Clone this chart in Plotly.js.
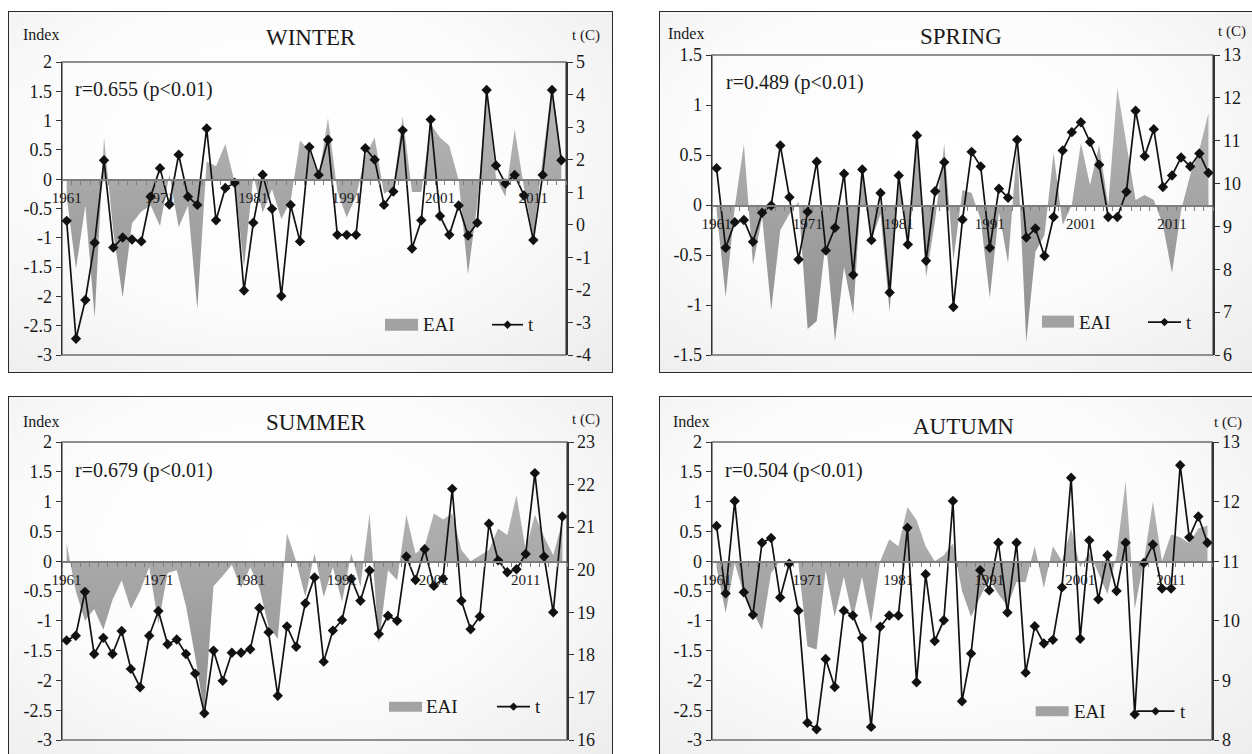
<!DOCTYPE html>
<html><head><meta charset="utf-8">
<script src="https://cdn.plot.ly/plotly-3.0.1.min.js"></script>
<style>
html,body{margin:0;padding:0;background:#fff;width:1252px;height:754px;overflow:hidden;position:relative;}
.panel{position:absolute;box-sizing:border-box;border:1.5px solid #2a2a2a;
  background:radial-gradient(ellipse at 45% 40%, #ffffff 0%, #fcfcfc 50%, #ececec 100%);}
.plot{position:absolute;}
</style></head><body>
<script>
// ---------- DATA ----------
const yearsWinter = Array.from({length: 54}, (_, i) => 1961 + i);   // 1961-2014
const years = Array.from({length: 55}, (_, i) => 1961 + i);         // 1961-2015
const decadeTicks = [1961, 1971, 1981, 1991, 2001, 2011];

const winterEAI = [-0.3, -1.53, -0.45, -2.36, 0.71, -0.9, -2.02, -0.75, -0.55, -0.45,
  -0.8, 0.08, -0.82, -0.45, -2.22, 0.3, 0.22, 0.6, -0.05, -1.5,
  0.06, -0.57, -0.17, -0.68, -0.37, 0.66, 0.49, 0.03, 1.05, -0.2,
  -0.65, -0.3, 0.4, 0.71, -0.25, -0.15, 1.08, -0.22, -0.22, 0.94,
  0.71, 0.57, -0.02, -1.62, -0.42, 1.52, 0.03, -0.3, 0.85, -0.14,
  -0.99, 0.37, 1.6, 0.37];
const winterT = [0.12, -3.50, -2.31, -0.55, 1.98, -0.70, -0.39, -0.45, -0.51, 0.86,
  1.74, 0.62, 2.15, 0.86, 0.61, 2.96, 0.14, 1.13, 1.29, -2.02,
  0.06, 1.54, 0.49, -2.19, 0.61, -0.51, 2.39, 1.53, 2.61, -0.31,
  -0.31, -0.31, 2.35, 2.0, 0.61, 1.02, 2.90, -0.73, 0.14, 3.23,
  0.27, -0.31, 0.59, -0.33, 0.06, 4.14, 1.82, 1.27, 1.53, 0.9,
  -0.47, 1.53, 4.14, 1.98];

const springEAI = [-0.05, -0.92, -0.02, 0.61, -0.6, -0.12, -1.05, -0.25, -0.09, 0.03,
  -1.24, -1.16, -0.35, -1.36, -0.62, -1.09, 0.31, -0.35, -0.09, -1.07,
  0.25, -0.35, 0.65, -0.72, -0.15, 0.61, -0.55, 0.15, 0.12, -0.15,
  -0.93, -0.07, -0.58, 0.6, -1.37, -0.47, -0.3, 0.52, -0.2, 0.0,
  0.62, 0.2, 0.6, 0.0, 1.17, 0.6, 0.05, 0.1, 0.05, -0.2,
  -0.68, -0.05, 0.3, 0.55, 0.92];
const springT = [10.36, 8.50, 9.10, 9.15, 8.64, 9.32, 9.49, 10.89, 9.68, 8.23,
  9.34, 10.51, 8.44, 8.97, 10.23, 7.87, 10.33, 8.68, 9.78, 7.46,
  10.19, 8.58, 11.12, 8.20, 9.82, 10.50, 7.12, 9.16, 10.74, 10.40,
  8.50, 9.88, 9.67, 11.02, 8.74, 8.95, 8.31, 9.22, 10.77, 11.20,
  11.43, 10.97, 10.44, 9.22, 9.22, 9.81, 11.70, 10.64, 11.27, 9.92,
  10.19, 10.61, 10.40, 10.70, 10.25];

const summerEAI = [0.3, -0.5, -1.0, -0.8, -1.15, -0.65, -0.32, -0.8, -0.5, -0.1,
  -1.05, -0.2, -0.15, -0.75, -1.6, -2.55, -0.42, -0.25, -0.06, -0.45,
  -0.1, -0.45, -1.1, -1.3, 0.47, 0.0, -0.6, 0.13, -0.6, -0.1,
  -0.68, 0.13, -0.43, 0.8, -1.38, -0.15, -0.32, 0.78, 0.13, 0.25,
  0.8, 0.7, 0.8, 0.19, 0.0, 0.1, 0.19, 0.55, 0.44, 1.11,
  0.19, 0.78, 0.41, 0.1, 0.67];
const summerT = [18.34, 18.45, 19.48, 18.02, 18.40, 18.02, 18.56, 17.67, 17.24, 18.45,
  19.03, 18.25, 18.36, 18.02, 17.56, 16.63, 18.10, 17.39, 18.05, 18.05,
  18.13, 19.10, 18.53, 17.04, 18.67, 18.19, 19.21, 19.82, 17.84, 18.57,
  18.82, 19.79, 19.27, 19.98, 18.49, 18.92, 18.80, 20.31, 19.76, 20.48,
  19.62, 19.79, 21.90, 19.27, 18.60, 18.90, 21.08, 20.22, 19.94, 20.01,
  20.37, 22.27, 20.31, 19.00, 21.25];

const autumnEAI = [-0.1, -0.87, -0.03, -0.55, -0.85, -1.15, -0.2, 0.0, 0.0, -0.03,
  -1.43, -1.48, -0.15, -0.93, -0.26, -0.96, -0.26, -1.04, 0.0, 0.37,
  0.25, 0.91, 0.69, 0.25, 0.0, 0.1, 0.3, -0.5, -0.93, -0.6,
  -0.3, -0.55, -0.75, -0.35, -0.35, 0.25, -0.45, 0.25, 0.0, 0.55,
  -0.1, 0.15, -0.2, -0.55, 0.1, 1.35, -0.8, 0.0, 1.0, 0.0,
  0.45, 0.4, 0.3, 0.55, 0.6];
const autumnT = [11.59, 10.46, 12.01, 10.48, 10.10, 11.31, 11.39, 10.39, 10.96, 10.17,
  8.29, 8.18, 9.36, 8.89, 10.17, 10.09, 9.71, 8.22, 9.90, 10.09,
  10.09, 11.56, 8.97, 10.78, 9.66, 10.01, 12.01, 8.65, 9.45, 10.85,
  10.51, 11.31, 10.14, 11.31, 9.13, 9.91, 9.62, 9.68, 10.56, 12.40,
  9.70, 11.35, 10.36, 11.10, 10.50, 11.31, 8.43, 10.97, 11.28, 10.54,
  10.54, 12.61, 11.40, 11.75, 11.31];

const winterLeftTicks = [-3, -2.5, -2, -1.5, -1, -0.5, 0, 0.5, 1, 1.5, 2];
const winterRightTicks = [-4, -3, -2, -1, 0, 1, 2, 3, 4, 5];
const springLeftTicks = [-1.5, -1, -0.5, 0, 0.5, 1, 1.5];
const springRightTicks = [6, 7, 8, 9, 10, 11, 12, 13];
const summerLeftTicks = [-3, -2.5, -2, -1.5, -1, -0.5, 0, 0.5, 1, 1.5, 2];
const summerRightTicks = [16, 17, 18, 19, 20, 21, 22, 23];
const autumnLeftTicks = [-3, -2.5, -2, -1.5, -1, -0.5, 0, 0.5, 1, 1.5, 2];
const autumnRightTicks = [8, 9, 10, 11, 12, 13];

const seasonTitles = ['WINTER', 'SPRING', 'SUMMER', 'AUTUMN'];
const corrTexts = ['r=0.655 (p<0.01)', 'r=0.489 (p<0.01)', 'r=0.679 (p<0.01)', 'r=0.504 (p<0.01)'];
const leftAxisTitle = 'Index';
const rightAxisTitle = 't (C)';
const legendNames = ['EAI', 't'];

// ---------- LAYOUT GEOMETRY (pixels) ----------
const FONT = 'Liberation Serif, Times New Roman, serif';
const panels = [
  {x: yearsWinter, eai: winterEAI, t: winterT, lt: winterLeftTicks, rt: winterRightTicks,
   box: [8, 10.7, 613.3, 372.7], plot: [62, 61.3, 566, 354.3],
   title: [311, 36.5], r: [73, 89], idx: [20.7, 33.5], tc: [586, 35],
   leg: {sw: [385, 418, 318, 330], eai: 421, ly: 324, line: [492, 523], t: 526}},
  {x: years, eai: springEAI, t: springT, lt: springLeftTicks, rt: springRightTicks,
   box: [659, 10.7, 1262, 372.7], plot: [712, 55, 1213, 354.3],
   title: [960.7, 36.5], r: [724.3, 82], idx: [666, 33.5], tc: [1232, 32],
   leg: {sw: [1042, 1074, 315, 327], eai: 1077, ly: 321.5, line: [1148, 1181], t: 1184}},
  {x: years, eai: summerEAI, t: summerT, lt: summerLeftTicks, rt: summerRightTicks,
   box: [8, 396, 613.3, 764], plot: [62, 442.3, 567, 740],
   title: [315.8, 423.3], r: [73.3, 470.7], idx: [20.7, 421.7], tc: [586, 420],
   leg: {sw: [389, 422, 701.7, 711.7], eai: 424, ly: 706.7, line: [497, 530], t: 533}},
  {x: years, eai: autumnEAI, t: autumnT, lt: autumnLeftTicks, rt: autumnRightTicks,
   box: [659, 396, 1262, 764], plot: [712, 442.3, 1212.5, 740.5],
   title: [964, 426.7], r: [722.7, 470.7], idx: [671, 421.7], tc: [1229, 423],
   leg: {sw: [1036, 1069, 706.7, 716.7], eai: 1072, ly: 711.7, line: [1137, 1175], t: 1178}}
];

panels.forEach((P, k) => {
  const bx0 = P.box[0], by0 = P.box[1], W = P.box[2] - P.box[0], H = P.box[3] - P.box[1];
  const bg = document.createElement('div');
  bg.className = 'panel';
  bg.style.left = bx0 + 'px'; bg.style.top = by0 + 'px';
  bg.style.width = W + 'px'; bg.style.height = H + 'px';
  document.body.appendChild(bg);
  const d = document.createElement('div');
  d.className = 'plot'; d.id = 'p' + k;
  d.style.left = bx0 + 'px'; d.style.top = by0 + 'px';
  d.style.width = W + 'px'; d.style.height = H + 'px';
  document.body.appendChild(d);

  const pw = P.plot[2] - P.plot[0], ph = P.plot[3] - P.plot[1];
  const px = x => (x - P.plot[0]) / pw;
  const py = y => (P.plot[3] - y) / ph;
  const lmin = Math.min(...P.lt), lmax = Math.max(...P.lt);
  const rmin = Math.min(...P.rt), rmax = Math.max(...P.rt);
  const zeroPos = (0 - lmin) / (lmax - lmin);
  const xr = [P.x[0] - 0.5, P.x[P.x.length - 1] + 0.5];

  const traces = [
    {x: P.x, y: P.eai, type: 'scatter', mode: 'lines', fill: 'tozeroy',
     fillcolor: '#a4a4a4',
     fillgradient: {type: 'vertical', start: lmin, stop: lmax,
       colorscale: [[0, '#8c8c8c'], [0.6, '#a9a9a9'], [1, '#bcbcbc']]},
     line: {width: 0, color: 'rgba(0,0,0,0)'},
     name: legendNames[0], showlegend: false, hoverinfo: 'skip', xaxis: 'x', yaxis: 'y'},
    {x: P.x, y: P.t, type: 'scatter', mode: 'lines+markers', cliponaxis: false,
     line: {color: '#111', width: 1.7}, marker: {symbol: 'diamond', size: 8, color: '#111'},
     name: legendNames[1], showlegend: false, hoverinfo: 'skip', xaxis: 'x', yaxis: 'y2'}
  ];

  const txt = (s, x, y, size, anchor) => ({text: s, x: px(x), y: py(y), xref: 'paper', yref: 'paper',
    showarrow: false, xanchor: anchor, yanchor: 'middle', font: {family: FONT, size: size, color: '#1a1a1a'}});
  const L = P.leg;
  const dx = 4.2 / pw, dy = 4.2 / ph, cx = px((L.line[0] + L.line[1]) / 2), cy = py(L.ly);
  const layout = {
    width: W, height: H,
    margin: {l: P.plot[0] - bx0, r: P.box[2] - P.plot[2], t: P.plot[1] - by0, b: P.box[3] - P.plot[3], pad: 0},
    paper_bgcolor: 'rgba(0,0,0,0)', plot_bgcolor: 'rgba(0,0,0,0)',
    showlegend: false,
    font: {family: FONT, color: '#1a1a1a'},
    xaxis: {type: 'linear', range: xr, anchor: 'free', position: zeroPos,
      showgrid: false, zeroline: false, showline: true, linecolor: '#7d7d7d', linewidth: 1.5,
      tickmode: 'array', tickvals: decadeTicks, ticktext: decadeTicks.map(String),
      ticks: 'outside', ticklen: 4, tickcolor: 'rgba(0,0,0,0)', ticklabelstandoff: 0,
      tickfont: {family: FONT, size: 15, color: '#1a1a1a'},
      minor: {tick0: 0.5, dtick: 1, ticks: 'outside', ticklen: 4, tickcolor: '#7d7d7d', tickwidth: 1, showgrid: false}},
    yaxis: {range: [lmin, lmax], showgrid: false, zeroline: false, showline: true,
      linecolor: '#333', linewidth: 1.5, ticks: 'outside', ticklen: 5, tickcolor: '#333',
      tickmode: 'array', tickvals: P.lt, ticktext: P.lt.map(String),
      tickfont: {family: FONT, size: 18, color: '#1a1a1a'}},
    yaxis2: {range: [rmin, rmax], overlaying: 'y', side: 'right', showgrid: false, zeroline: false,
      showline: true, linecolor: '#333', linewidth: 1.5, ticks: 'outside', ticklen: 5, tickcolor: '#333',
      tickmode: 'array', tickvals: P.rt, ticktext: P.rt.map(String),
      tickfont: {family: FONT, size: 18, color: '#1a1a1a'}},
    shapes: [
      {type: 'rect', xref: 'paper', yref: 'paper', x0: 0, x1: 1, y0: 0, y1: 1,
       line: {color: '#6e6e6e', width: 1.5}, layer: 'below'},
      {type: 'rect', xref: 'paper', yref: 'paper', x0: px(L.sw[0]), x1: px(L.sw[1]), y0: py(L.sw[3]), y1: py(L.sw[2]),
       fillcolor: '#a2a2a2', line: {width: 0}},
      {type: 'line', xref: 'paper', yref: 'paper', x0: px(L.line[0]), x1: px(L.line[1]), y0: cy, y1: cy,
       line: {color: '#111', width: 1.7}},
      {type: 'path', xref: 'paper', yref: 'paper',
       path: `M ${cx - dx} ${cy} L ${cx} ${cy + dy} L ${cx + dx} ${cy} L ${cx} ${cy - dy} Z`,
       fillcolor: '#111', line: {width: 0}}
    ],
    annotations: [
      txt(seasonTitles[k], P.title[0], P.title[1], 23, 'center'),
      txt(corrTexts[k], P.r[0], P.r[1], 20, 'left'),
      txt(leftAxisTitle, P.idx[0], P.idx[1], 16, 'left'),
      txt(rightAxisTitle, P.tc[0], P.tc[1], 15, 'center'),
      txt(legendNames[0], L.eai, L.ly, 19, 'left'),
      txt(legendNames[1], L.t, L.ly, 19, 'left')
    ]
  };
  Plotly.newPlot(d, traces, layout, {staticPlot: true, displayModeBar: false});
});
</script>
</body></html>
